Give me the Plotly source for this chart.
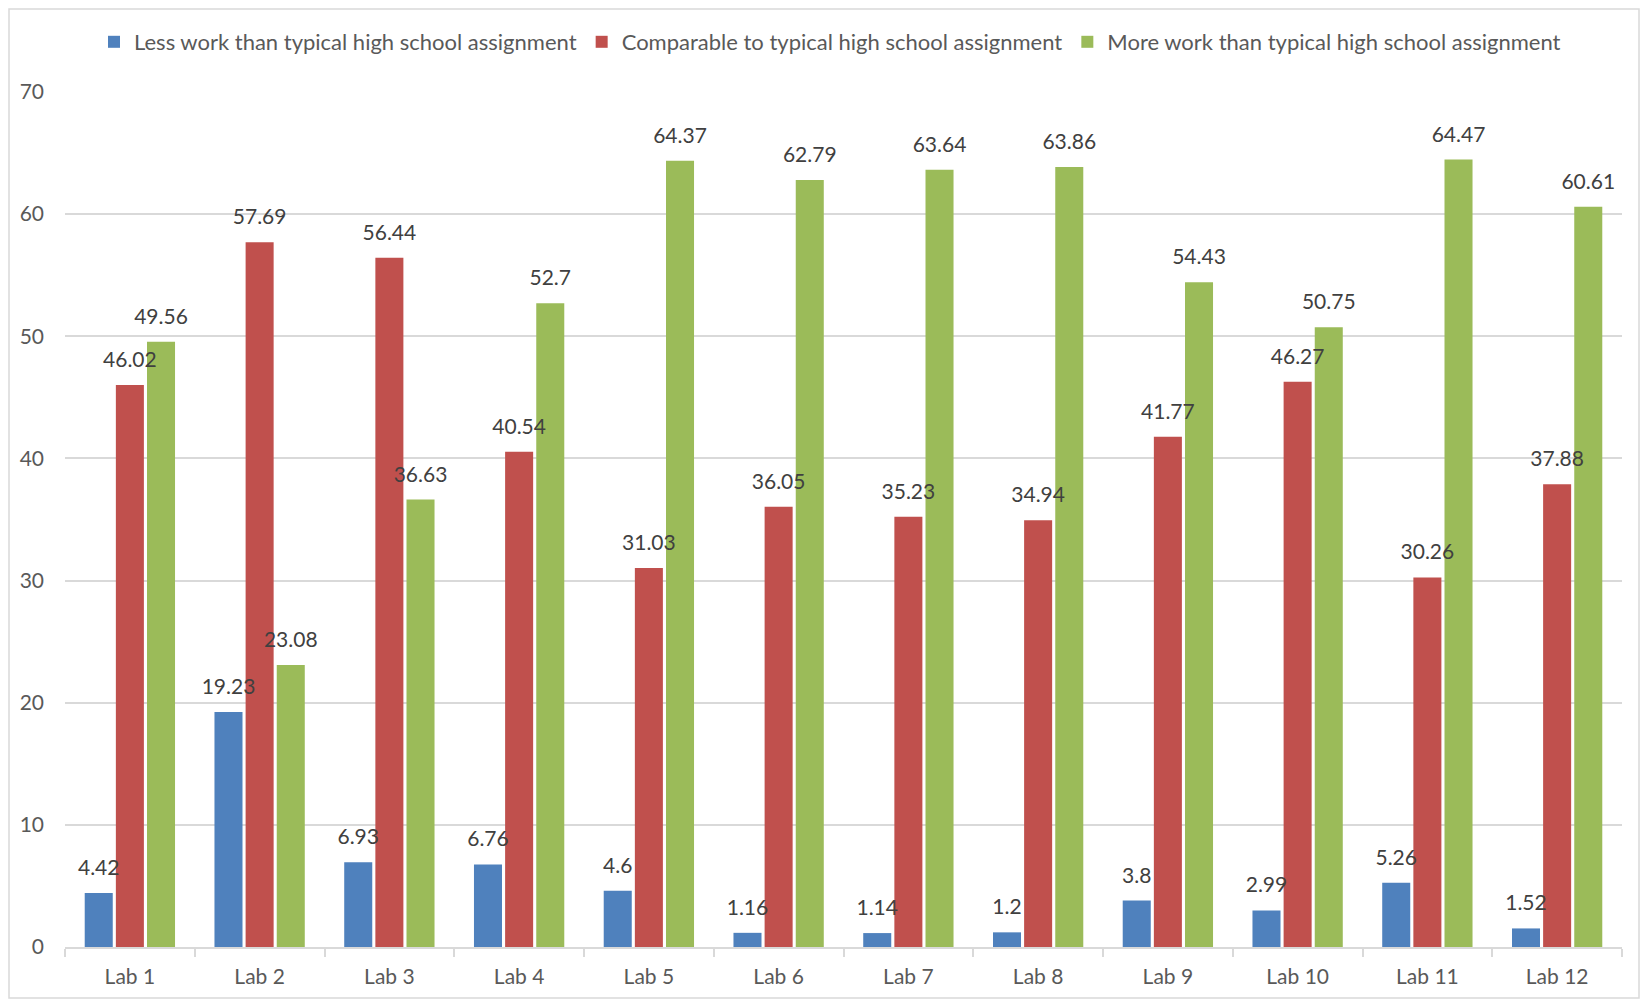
import plotly.graph_objects as go

categories = ["Lab 1", "Lab 2", "Lab 3", "Lab 4", "Lab 5", "Lab 6",
              "Lab 7", "Lab 8", "Lab 9", "Lab 10", "Lab 11", "Lab 12"]
less_work = [4.42, 19.23, 6.93, 6.76, 4.6, 1.16, 1.14, 1.2, 3.8, 2.99, 5.26, 1.52]
comparable = [46.02, 57.69, 56.44, 40.54, 31.03, 36.05, 35.23, 34.94, 41.77, 46.27, 30.26, 37.88]
more_work = [49.56, 23.08, 36.63, 52.7, 64.37, 62.79, 63.64, 63.86, 54.43, 50.75, 64.47, 60.61]

series = [
    ("Less work than typical high school assignment", less_work, "#4F81BD"),
    ("Comparable to typical high school assignment", comparable, "#C0504D"),
    ("More work than typical high school assignment", more_work, "#9BBB59"),
]

FONT = "Lato, 'Open Sans', sans-serif"

fig = go.Figure()
# bars
for i, (name, vals, color) in enumerate(series):
    fig.add_trace(go.Bar(
        name=name, x=categories, y=vals,
        offsetgroup=str(i),
        marker=dict(color=color, line=dict(width=0)),
        hoverinfo="x+y+name",
    ))
# data labels drawn on top of all bars (transparent copies on a slightly shifted overlay axis)
for i, (name, vals, color) in enumerate(series):
    fig.add_trace(go.Bar(
        name=name, x=categories, y=vals, yaxis="y2",
        offsetgroup=str(i),
        marker=dict(color="rgba(0,0,0,0)", line=dict(width=0)),
        text=[str(v) for v in vals],
        textposition="outside",
        textfont=dict(family=FONT, size=21, color="#404040"),
        constraintext="none",
        cliponaxis=False,
        showlegend=False,
        hoverinfo="skip",
    ))

W, H = 1632, 991
ml, mr, mt, mb = 57, 18, 84, 52

fig.update_layout(
    width=W, height=H,
    margin=dict(l=ml, r=mr, t=mt, b=mb),
    barmode="group",
    bargap=0.28,
    bargroupgap=0.1,
    plot_bgcolor="white",
    paper_bgcolor="white",
    font=dict(family=FONT, size=21, color="#595959"),
    legend=dict(
        orientation="h", x=822 / W, xref="container", xanchor="center",
        y=1 - 34 / H, yref="container",
        yanchor="middle", font=dict(family=FONT, size=22, color="#595959"),
        tracegroupgap=0,
    ),
    showlegend=True,
    xaxis=dict(
        type="category",
        showgrid=False,
        showline=True, linecolor="#d9d9d9", linewidth=1.5,
        ticks="outside", tickson="boundaries", ticklen=8, tickcolor="#d9d9d9",
        tickwidth=1.5,
        tickfont=dict(family=FONT, size=21, color="#595959"),
        ticklabelstandoff=10,
    ),
    yaxis=dict(
        range=[0, 70], dtick=10,
        showgrid=True, gridcolor="#d9d9d9", gridwidth=1.5,
        zeroline=False, showline=False,
        tickfont=dict(family=FONT, size=21, color="#595959"),
        ticklabelstandoff=20,
    ),
    yaxis2=dict(
        overlaying="y", range=[-0.9, 69.1], visible=False,
        showgrid=False, zeroline=False,
    ),
)

# outer chart border
pw = W - ml - mr
ph = H - mt - mb
fig.add_shape(
    type="rect", xref="paper", yref="paper",
    x0=(1 - ml) / pw, x1=1 + (mr - 1) / pw,
    y0=-(mb - 1) / ph, y1=1 + (mt - 1) / ph,
    line=dict(color="#d9d9d9", width=1.5), fillcolor="rgba(0,0,0,0)",
    layer="below",
)

fig.write_html("out.html")
